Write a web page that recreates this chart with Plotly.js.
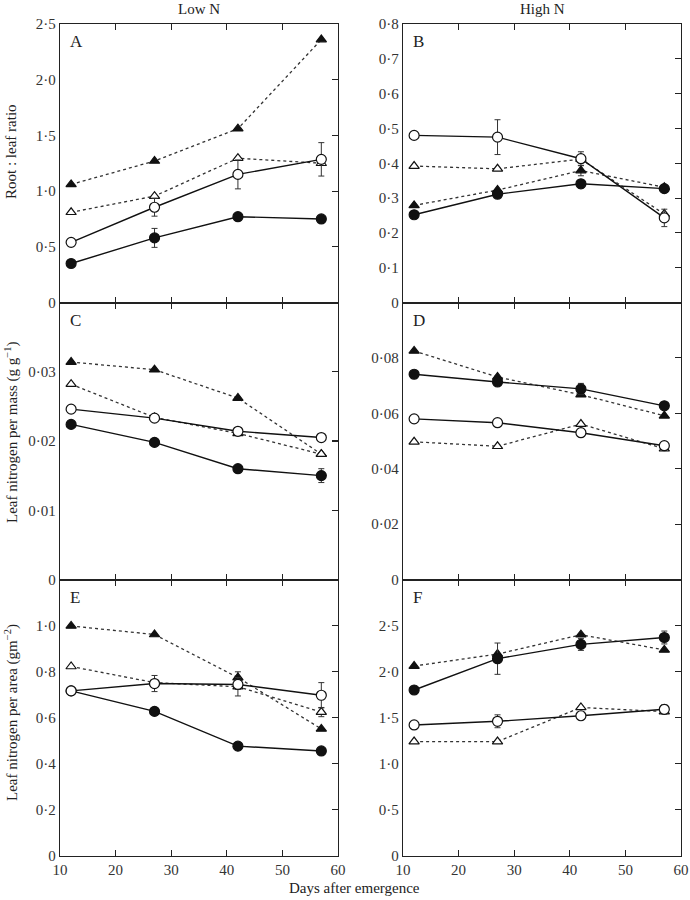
<!DOCTYPE html>
<html>
<head>
<meta charset="utf-8">
<script src="https://cdn.plot.ly/plotly-3.0.1.min.js"></script>
<style>html,body{margin:0;padding:0;background:#fff;}#chart{width:690px;height:900px;}</style>
</head>
<body>
<div id="chart"></div>
<script>
// ---------------- DATA ----------------
var days = [12, 27, 42, 57];
var panelLetters = ["A", "B", "C", "D", "E", "F"];
var columnTitles = ["Low N", "High N"];
var xTickVals = [10, 20, 30, 40, 50, 60];
var xTickText = ["10", "20", "30", "40", "50", "60"];

// Panel A: Root:leaf ratio, Low N
var aFilledCircle = [0.35, 0.58, 0.77, 0.75];
var aFilledCircleErr = [0, 0.085, 0, 0];
var aOpenCircle = [0.54, 0.855, 1.15, 1.285];
var aOpenCircleErr = [0, 0.08, 0.13, 0.15];
var aFilledTri = [1.06, 1.27, 1.56, 2.36];
var aFilledTriErr = [0, 0, 0, 0];
var aOpenTri = [0.81, 0.955, 1.295, 1.25];
var aOpenTriErr = [0, 0, 0, 0];

// Panel B: Root:leaf ratio, High N
var bFilledCircle = [0.252, 0.311, 0.341, 0.327];
var bFilledCircleErr = [0, 0, 0.012, 0];
var bOpenCircle = [0.48, 0.475, 0.413, 0.243];
var bOpenCircleErr = [0, 0.05, 0.02, 0.025];
var bFilledTri = [0.279, 0.323, 0.379, 0.331];
var bFilledTriErr = [0, 0, 0.015, 0];
var bOpenTri = [0.392, 0.384, 0.412, 0.254];
var bOpenTriErr = [0, 0, 0, 0];

// Panel C: Leaf N per mass, Low N
var cFilledCircle = [0.0224, 0.0198, 0.0160, 0.0150];
var cFilledCircleErr = [0, 0, 0, 0.001];
var cOpenCircle = [0.0246, 0.0233, 0.0214, 0.0205];
var cOpenCircleErr = [0, 0, 0, 0];
var cFilledTri = [0.0314, 0.0303, 0.0262, 0.0181];
var cFilledTriErr = [0, 0, 0, 0];
var cOpenTri = [0.0282, 0.0234, 0.0211, 0.0181];
var cOpenTriErr = [0, 0, 0, 0];

// Panel D: Leaf N per mass, High N
var dFilledCircle = [0.0741, 0.0713, 0.0688, 0.0627];
var dFilledCircleErr = [0, 0.001, 0.002, 0];
var dOpenCircle = [0.0580, 0.0566, 0.0530, 0.0483];
var dOpenCircleErr = [0, 0.001, 0, 0.0015];
var dFilledTri = [0.0825, 0.0731, 0.0667, 0.0591];
var dFilledTriErr = [0, 0, 0, 0];
var dOpenTri = [0.0497, 0.0481, 0.0561, 0.0472];
var dOpenTriErr = [0, 0, 0, 0];

// Panel E: Leaf N per area, Low N
var eFilledCircle = [0.716, 0.627, 0.476, 0.455];
var eFilledCircleErr = [0, 0.015, 0, 0];
var eOpenCircle = [0.716, 0.748, 0.744, 0.697];
var eOpenCircleErr = [0, 0.035, 0.02, 0.055];
var eFilledTri = [0.998, 0.961, 0.774, 0.551];
var eFilledTriErr = [0, 0, 0.025, 0];
var eOpenTri = [0.822, 0.752, 0.734, 0.624];
var eOpenTriErr = [0, 0, 0.04, 0.02];

// Panel F: Leaf N per area, High N
var fFilledCircle = [1.80, 2.14, 2.295, 2.37];
var fFilledCircleErr = [0, 0.17, 0.065, 0.07];
var fOpenCircle = [1.42, 1.46, 1.52, 1.59];
var fOpenCircleErr = [0, 0.07, 0, 0.05];
var fFilledTri = [2.06, 2.19, 2.40, 2.235];
var fFilledTriErr = [0, 0, 0, 0];
var fOpenTri = [1.24, 1.24, 1.61, 1.565];
var fOpenTriErr = [0, 0, 0, 0];

// Y axis ranges and ticks
var yRanges = [[0, 2.5], [0, 0.8], [0, 0.04], [0, 0.1], [0, 1.2], [0, 3]];
var yTickVals = [
  [0, 0.5, 1.0, 1.5, 2.0, 2.5],
  [0, 0.1, 0.2, 0.3, 0.4, 0.5, 0.6, 0.7, 0.8],
  [0, 0.01, 0.02, 0.03],
  [0, 0.02, 0.04, 0.06, 0.08],
  [0, 0.2, 0.4, 0.6, 0.8, 1.0],
  [0, 0.5, 1.0, 1.5, 2.0, 2.5]
];
var yTickText = [
  ["0", "0·5", "1·0", "1·5", "2·0", "2·5"],
  ["0", "0·1", "0·2", "0·3", "0·4", "0·5", "0·6", "0·7", "0·8"],
  ["0", "0·01", "0·02", "0·03"],
  ["0", "0·02", "0·04", "0·06", "0·08"],
  ["0", "0·2", "0·4", "0·6", "0·8", "1·0"],
  ["0", "0·5", "1·0", "1·5", "2·0", "2·5"]
];
var yTitles = ["Root : leaf ratio", "Leaf nitrogen per mass (g g<sup>−1</sup>)", "Leaf nitrogen per area (gm<sup>−2</sup>)"];
var xTitle = "Days after emergence";

// ---------------- BUILD ----------------
var panels = [
  [aFilledCircle, aFilledCircleErr, aOpenCircle, aOpenCircleErr, aFilledTri, aFilledTriErr, aOpenTri, aOpenTriErr],
  [bFilledCircle, bFilledCircleErr, bOpenCircle, bOpenCircleErr, bFilledTri, bFilledTriErr, bOpenTri, bOpenTriErr],
  [cFilledCircle, cFilledCircleErr, cOpenCircle, cOpenCircleErr, cFilledTri, cFilledTriErr, cOpenTri, cOpenTriErr],
  [dFilledCircle, dFilledCircleErr, dOpenCircle, dOpenCircleErr, dFilledTri, dFilledTriErr, dOpenTri, dOpenTriErr],
  [eFilledCircle, eFilledCircleErr, eOpenCircle, eOpenCircleErr, eFilledTri, eFilledTriErr, eOpenTri, eOpenTriErr],
  [fFilledCircle, fFilledCircleErr, fOpenCircle, fOpenCircleErr, fFilledTri, fFilledTriErr, fOpenTri, fOpenTriErr]
];

var FONT = "Liberation Serif, Times New Roman, serif";
var INK = "#222";
var xDomL = [60/690, 338/690], xDomR = [403/690, 681/690];
var yDoms = [[1-302.5/900, 1-24/900], [1-579.5/900, 1-302.5/900], [1-855.7/900, 1-579.5/900]];

var styles = [
  {dash: "solid", symbol: "circle", fill: "#111", size: 10},
  {dash: "solid", symbol: "circle", fill: "#fff", size: 10},
  {dash: "dot", symbol: "triangle-up", fill: "#111", size: 9},
  {dash: "dot", symbol: "triangle-up", fill: "#fff", size: 9}
];
var drawOrder = [2, 3, 0, 1];

var traces = [];
var layout = {
  width: 690, height: 900,
  margin: {l: 0, r: 0, t: 0, b: 0},
  paper_bgcolor: "#fff", plot_bgcolor: "#fff",
  showlegend: false, hovermode: false,
  font: {family: FONT, color: INK, size: 14},
  annotations: []
};

for (var p = 0; p < 6; p++) {
  var n = p + 1;
  var xs = n === 1 ? "x" : "x" + n;
  var ys = n === 1 ? "y" : "y" + n;
  var yr = "y" + (n + 6);
  var col = p % 2, row = Math.floor(p / 2);
  var xKey = n === 1 ? "xaxis" : "xaxis" + n;
  var yKey = n === 1 ? "yaxis" : "yaxis" + n;
  layout[xKey] = {
    domain: col === 0 ? xDomL : xDomR, anchor: ys, range: [10, 60],
    tickmode: "array", tickvals: xTickVals, ticktext: xTickText,
    showticklabels: row === 2, ticks: "inside", ticklen: 6, tickwidth: 1.1, tickcolor: INK,
    showline: true, linecolor: INK, linewidth: 1, mirror: "ticks",
    showgrid: false, zeroline: false, fixedrange: true,
    tickfont: {family: FONT, size: 15, color: "#333"}
  };
  layout[yKey] = {
    domain: yDoms[row], anchor: xs, range: yRanges[p],
    tickmode: "array", tickvals: yTickVals[p], ticktext: yTickText[p],
    ticks: "", ticklen: 0, showline: true, linecolor: INK, linewidth: 1.2,
    showgrid: false, zeroline: false, fixedrange: true,
    tickfont: {family: FONT, size: 15, color: "#333"}
  };
  layout["yaxis" + (n + 6)] = {
    overlaying: ys, anchor: xs, side: "right", range: yRanges[p],
    tickmode: "array", tickvals: yTickVals[p], showticklabels: false,
    ticks: "inside", ticklen: 6, tickwidth: 1.1, tickcolor: INK,
    showline: true, linecolor: INK, linewidth: 1.2,
    showgrid: false, zeroline: false, fixedrange: true
  };
  traces.push({x: [null], y: [null], xaxis: xs, yaxis: yr, mode: "markers", hoverinfo: "skip"});

  for (var k = 0; k < 4; k++) {
    var s = drawOrder[k];
    var st = styles[s];
    var vals = panels[p][s * 2], errs = panels[p][s * 2 + 1];
    var hasErr = errs.some(function (e) { return e > 0; });
    traces.push({
      x: days, y: vals, xaxis: xs, yaxis: ys, type: "scatter", mode: "lines+markers",
      line: {color: st.dash === "dot" ? "#333" : "#111", width: st.dash === "dot" ? 1.3 : 1.4, dash: st.dash},
      marker: {symbol: st.symbol, size: st.size, color: st.fill, line: {color: "#111", width: 1.2}},
      error_y: hasErr ? {type: "data", array: errs, visible: true, color: "#333", thickness: 1, width: 3} : {visible: false},
      cliponaxis: false
    });
  }

  var dx = col === 0 ? xDomL[0] : xDomR[0];
  layout.annotations.push({
    text: panelLetters[p], xref: "paper", yref: "paper",
    x: dx + 8/690, y: yDoms[row][1] - 6/900, xanchor: "left", yanchor: "top",
    showarrow: false, font: {family: FONT, size: 17, color: INK}
  });
}

layout.annotations.push({text: columnTitles[0], xref: "paper", yref: "paper", x: 199/690, y: 1 - 9/900,
  xanchor: "center", yanchor: "middle", showarrow: false, font: {family: FONT, size: 15, color: INK}});
layout.annotations.push({text: columnTitles[1], xref: "paper", yref: "paper", x: 542/690, y: 1 - 9/900,
  xanchor: "center", yanchor: "middle", showarrow: false, font: {family: FONT, size: 15, color: INK}});
var yTitleCenters = [152, 432, 713];
for (var r = 0; r < 3; r++) {
  layout.annotations.push({text: yTitles[r], xref: "paper", yref: "paper", x: 11/690, y: 1 - yTitleCenters[r]/900,
    xanchor: "center", yanchor: "middle", textangle: -90, showarrow: false,
    font: {family: FONT, size: 15, color: INK}});
}
layout.annotations.push({text: xTitle, xref: "paper", yref: "paper", x: 354/690, y: 1 - 888/900,
  xanchor: "center", yanchor: "middle", showarrow: false, font: {family: FONT, size: 15, color: INK}});

Plotly.newPlot("chart", traces, layout, {displayModeBar: false, staticPlot: true});
</script>
</body>
</html>
